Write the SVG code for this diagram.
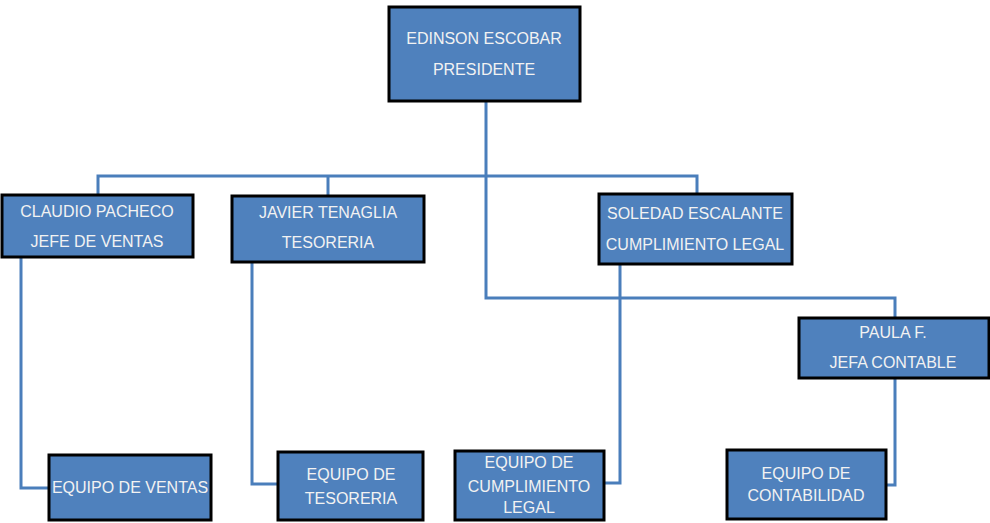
<svg xmlns="http://www.w3.org/2000/svg" width="990" height="523" viewBox="0 0 990 523">
<style>
.box{fill:#4f81bd;stroke:#000;stroke-width:3}
.t{font-family:"Liberation Sans",Arial,sans-serif;font-size:16px;fill:#f2f2f2;text-anchor:middle}
.c{fill:none;stroke:#4a7ebb;stroke-width:3}
</style>
<rect width="990" height="523" fill="#fff"/>
<g id="connectors">
<path class="c" d="M486,101 V298 H895 V318"/>
<path class="c" d="M98,195 V176 H697 V194"/>
<path class="c" d="M328,176 V196"/>
<path class="c" d="M21,257 V488 H49"/>
<path class="c" d="M252,262 V484 H278"/>
<path class="c" d="M620,264 V483 H604"/>
<path class="c" d="M895,378 V485 H886"/>
</g>
<g id="president">
<rect class="box" x="389" y="7" width="191" height="94"/>
<text class="t" x="484" y="44">EDINSON ESCOBAR</text>
<text class="t" x="484" y="75">PRESIDENTE</text>
</g>
<g id="claudio">
<rect class="box" x="2" y="195" width="191" height="62"/>
<text class="t" x="97" y="217">CLAUDIO PACHECO</text>
<text class="t" x="97" y="247">JEFE DE VENTAS</text>
</g>
<g id="javier">
<rect class="box" x="232" y="196" width="192" height="66"/>
<text class="t" x="328" y="218">JAVIER TENAGLIA</text>
<text class="t" x="328" y="248">TESORERIA</text>
</g>
<g id="soledad">
<rect class="box" x="599" y="194" width="193" height="70"/>
<text class="t" x="695" y="219">SOLEDAD ESCALANTE</text>
<text class="t" x="695" y="250">CUMPLIMIENTO LEGAL</text>
</g>
<g id="paula">
<rect class="box" x="799" y="318" width="190" height="60"/>
<text class="t" x="893" y="338">PAULA F.</text>
<text class="t" x="893" y="368">JEFA CONTABLE</text>
</g>
<g id="equipo-ventas">
<rect class="box" x="49" y="455" width="162" height="65"/>
<text class="t" x="130" y="493">EQUIPO DE VENTAS</text>
</g>
<g id="equipo-tesoreria">
<rect class="box" x="278" y="452" width="145" height="68"/>
<text class="t" x="351" y="480">EQUIPO DE</text>
<text class="t" x="351" y="504">TESORERIA</text>
</g>
<g id="equipo-cumplimiento">
<rect class="box" x="455" y="451" width="149" height="69"/>
<text class="t" x="529" y="468">EQUIPO DE</text>
<text class="t" x="529" y="492">CUMPLIMIENTO</text>
<text class="t" x="529" y="513">LEGAL</text>
</g>
<g id="equipo-contabilidad">
<rect class="box" x="727" y="450" width="159" height="69"/>
<text class="t" x="806" y="479">EQUIPO DE</text>
<text class="t" x="806" y="501">CONTABILIDAD</text>
</g>
</svg>
